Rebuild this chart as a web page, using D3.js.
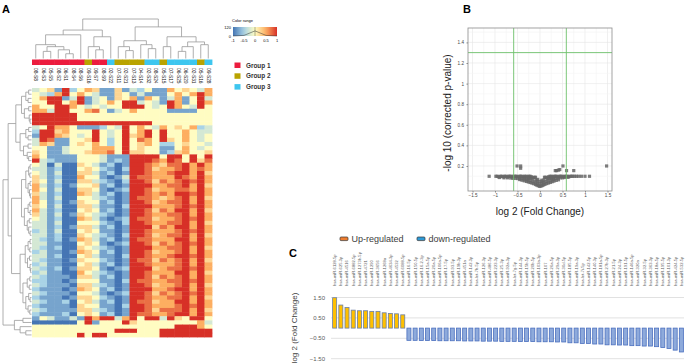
<!DOCTYPE html>
<html lang="en">

<head>
    <meta charset="UTF-8">
    <title>miRNA panels</title>
    <style>
        body { margin: 0; background: #fff; }
        svg { display: block; font-family: "Liberation Sans", Arial, sans-serif; }
    </style>
</head>

<body>
    <div id="wrapper"></div>
    <script src="https://cdn.jsdelivr.net/npm/d3@7"></script>
    <script>
        // ---------- panel A data ----------
        const sampleLabels = ['08-S8', '06-S3', '05-S5', '08-S2', '06-S1', '08-S4', '08-S6', '09-S16', '09-S7', '08-S9',
            '02-S22', '07-S11', '02-S21', '07-S13', '04-S14', '02-S32', '08-S24', '05-S15', '07-S17', '06-S25',
            '06-S20', '02-S31', '05-S16', '09-S28'];
        const sampleGroups = [1, 1, 1, 1, 1, 1, 1, 2, 1, 1, 3, 2, 2, 2, 2, 3, 3, 2, 3, 3, 3, 3, 2, 3];
        const groupNames = ['Group 1', 'Group 2', 'Group 3'];

        // one string per miRNA row, one digit per sample: 0 = -1 (blue) .. 4 = 0 .. 8 = +1 (red)
        const heatRows = [
            '345182465115132411645436', '432684643115413111464686', '468813813415461641361483',
            '448846813464883431861486', '644886434344888434864384', '663884467413464444111144',
            '888888444444444444444444', '888888444444444444444444', '888888888888888844444444',
            '348664111243846436454623', '288564448434846848446433', '188654348434856848446434',
            '387114458424847648546434', '365114546424845642245443', '441134446664845441146434',
            '541134456674855441256445', '641111444311188884884848', '832111444312188876874857',
            '430300543120188765778686', '331200454210288756678676', '431300553120188766788685',
            '531200644101387766687686', '541300553210288757678786', '631201445120188866778685',
            '641300554101288756677686', '531200653120188767688786', '631300443210187765678685',
            '641201544120188756778686', '541300553110288866678786', '631200454120188757688685',
            '531301543210188766778686', '431200653101287756678786', '331300444210288766778685',
            '331201553120188857688686', '231300454110188766678786', '331200543210288756778685',
            '321201653120187766688686', '331100454101288757678786', '321200543210188866778685',
            '231101654120188756678686', '331200453110288766788786', '321101544210187757678685',
            '231100453120188766678686', '321201554101288856778786', '231100643210188766688685',
            '321110553120188757678686', '221101444110287766778786', '321110553210188756678685',
            '211101654120188866788686', '321110443101288757678786', '211101554210188766778685',
            '321120453120187756688686', '211110544110288766678786', '321111553210188757778685',
            '211120454120187766788686', '143113186883684883854884', '000000481444854444444463',
            '444444444444444444488864', '444444444448884448888888', '444444848844444448888888'
        ];

        // [height, left, right], leaves are indices
        const colTree = [1.0,
            [0.72,
                [0.6, [0.35, 0, [0.3, [0.18, 1, 2], [0.22, 3, [0.12, 4, 5]]]], 6],
                [0.55, [0.3, 7, [0.22, 8, 9]], 10]],
            [0.8,
                [0.45, [0.3, 11, [0.2, 12, 13]], [0.35, 14, [0.25, 15, 16]]],
                [0.55, [0.3, 17, 18], [0.42, [0.3, [0.18, 19, 20], 21], [0.35, 22, 23]]]]
        ];
        const rowTree = [1.0,
            [0.82,
                [0.55,
                    [0.35, [0.2, [0.1, 0, 1], [0.12, 2, 3]], [0.25, [0.1, 4, 5], [0.08, 6, [0.05, 7, 8]]]],
                    [0.4, [0.2, [0.1, 9, 10], [0.12, 11, 12]], [0.28, [0.12, 13, 14], [0.15, 15, [0.1, 16, 17]]]]],
                [0.7,
                    [0.35, [0.2, [0.1, [0.05, 18, 19], [0.06, 20, 21]], [0.12, [0.05, 22, 23], [0.07, 24, [0.04, 25, 26]]]],
                        [0.25, [0.12, [0.06, 27, 28], [0.05, 29, 30]], [0.15, [0.08, 31, 32], [0.1, 33, [0.05, 34, 35]]]]],
                    [0.4, [0.22, [0.12, [0.05, 36, 37], [0.06, 38, 39]], [0.14, [0.07, 40, 41], [0.05, 42, [0.03, 43, 44]]]],
                        [0.3, [0.15, [0.06, 45, 46], [0.08, 47, 48]], [0.2, [0.1, 49, [0.05, 50, 51]], [0.12, 52, [0.06, 53, 54]]]]]]],
            [0.6, [0.3, 55, 56], [0.4, 57, [0.2, 58, 59]]]
        ];

        const colorTicks = [-1, -0.5, 0, 0.5, 1];
        const colorCounts = [0, 8, 68, 8, 0];

        // ---------- panel B data: [log2 FC, -log10 corrected p] ----------
        const volcanoBand = [
            [-1.13, 0.10], [-0.98, 0.10], [-0.95, 0.10], [-0.92, 0.095], [-0.88, 0.10], [-0.85, 0.10], [-0.82, 0.095],
            [-0.79, 0.10], [-0.76, 0.10], [-0.73, 0.095], [-0.70, 0.10], [-0.67, 0.10], [-0.64, 0.10], [-0.61, 0.095],
            [-0.58, 0.10], [-0.55, 0.10], [-0.52, 0.10], [-0.49, 0.095], [-0.46, 0.10], [-0.43, 0.10], [-0.40, 0.10],
            [-0.37, 0.095], [-0.34, 0.10], [-0.31, 0.10], [-0.28, 0.095], [-0.25, 0.10], [-0.22, 0.10], [-0.19, 0.095],
            [0.19, 0.095], [0.22, 0.10], [0.25, 0.10], [0.28, 0.095], [0.31, 0.10], [0.34, 0.10], [0.37, 0.10],
            [0.40, 0.095], [0.43, 0.10], [0.46, 0.10], [0.49, 0.10], [0.52, 0.095], [0.55, 0.10], [0.58, 0.10],
            [0.61, 0.10], [0.64, 0.095], [0.67, 0.10], [0.70, 0.10], [0.73, 0.10], [0.77, 0.10], [0.81, 0.10],
            [0.86, 0.10], [0.92, 0.10], [1.00, 0.10], [1.10, 0.10]
        ];
        const volcanoUnder = [
            [-0.90, 0.088], [-0.80, 0.085], [-0.72, 0.085], [-0.65, 0.083], [-0.60, 0.08], [-0.55, 0.08], [-0.50, 0.078],
            [-0.45, 0.076], [-0.40, 0.08], [-0.35, 0.082], [-0.30, 0.078], [-0.25, 0.08], [-0.20, 0.085], [-0.15, 0.088],
            [-0.10, 0.09], [0.10, 0.09], [0.15, 0.088], [0.20, 0.085], [0.25, 0.08], [0.30, 0.078], [0.35, 0.08],
            [0.40, 0.082], [0.45, 0.085], [0.50, 0.085], [0.55, 0.088], [0.62, 0.09]
        ];
        const volcanoV = [
            [-0.45, 0.068], [-0.40, 0.062], [-0.35, 0.056], [-0.30, 0.05], [-0.26, 0.045], [-0.22, 0.04], [-0.18, 0.034],
            [-0.14, 0.028], [-0.10, 0.02], [-0.07, 0.014], [-0.04, 0.008], [-0.01, 0.003], [0.02, 0.004], [0.05, 0.01],
            [0.08, 0.016], [0.11, 0.022], [0.15, 0.029], [0.19, 0.035], [0.23, 0.041], [0.27, 0.047], [0.31, 0.053],
            [0.36, 0.06], [0.41, 0.066],
            [-0.35, 0.072], [-0.28, 0.066], [-0.22, 0.06], [-0.16, 0.052], [-0.11, 0.045], [-0.06, 0.035], [-0.02, 0.025],
            [0.03, 0.028], [0.08, 0.04], [0.13, 0.05], [0.18, 0.058], [0.24, 0.064], [0.30, 0.07], [-0.24, 0.085],
            [-0.17, 0.075], [-0.09, 0.065], [0.00, 0.05], [0.09, 0.065], [0.17, 0.075], [0.25, 0.085], [-0.12, 0.09],
            [-0.05, 0.07], [0.04, 0.062], [0.12, 0.09], [-0.06, 0.052], [0.05, 0.045]
        ];
        const volcanoHigh = [
            [-0.51, 0.20], [-0.43, 0.20], [-0.43, 0.178], [0.51, 0.20], [0.34, 0.155], [0.37, 0.155],
            [0.41, 0.16], [0.44, 0.165], [0.59, 0.155], [0.75, 0.155], [1.48, 0.20]
        ];
        const fcCut = 0.585, pCut = 1.301;

        // ---------- panel C data ----------
        const upMirs = ['hsa-miR-6128-5p', 'hsa-miR-625-3p', 'hsa-miR-4516', 'hsa-miR-6882-5p', 'hsa-miR-1273h-5p',
            'hsa-miR-4721', 'hsa-miR-1290', 'hsa-miR-3656', 'hsa-miR-1268a', 'hsa-miR-4634-3p', 'hsa-miR-4532',
            'hsa-miR-6088-5p'];
        const upValues = [1.49, 1.13, 1.01, 0.88, 0.85, 0.85, 0.82, 0.82, 0.75, 0.72, 0.70, 0.65];
        const downMirs = ['hsa-miR-16-5p', 'hsa-miR-150-5p', 'hsa-miR-16-2-3p', 'hsa-miR-15a-5p', 'hsa-miR-20a-5p',
            'hsa-miR-106a-5p', 'hsa-miR-17-5p', 'hsa-miR-93-5p', 'hsa-miR-19b-3p', 'hsa-miR-451a', 'hsa-miR-142-3p',
            'hsa-let-7b-5p', 'hsa-miR-126-3p', 'hsa-miR-486-5p', 'hsa-miR-223-3p', 'hsa-miR-25-3p', 'hsa-miR-92a-3p',
            'hsa-let-7g-5p', 'hsa-miR-144-3p', 'hsa-miR-15b-5p', 'hsa-miR-20b-5p', 'hsa-miR-103a-3p', 'hsa-miR-107',
            'hsa-miR-26a-5p', 'hsa-miR-29a-3p', 'hsa-miR-30d-5p', 'hsa-miR-185-5p', 'hsa-miR-19a-3p', 'hsa-let-7i-5p',
            'hsa-miR-142-5p', 'hsa-miR-140-3p', 'hsa-miR-181a-5p', 'hsa-miR-27b-3p', 'hsa-miR-21-5p', 'hsa-miR-24-3p',
            'hsa-miR-191-5p', 'hsa-miR-146a-5p', 'hsa-miR-320a', 'hsa-miR-32-5p', 'hsa-miR-363-3p', 'hsa-miR-18a-5p',
            'hsa-miR-195-5p', 'hsa-miR-101-3p', 'hsa-miR-424-5p', 'hsa-miR-532-5p'];
        const downValues = [-0.60, -0.60, -0.61, -0.61, -0.61, -0.62, -0.62, -0.62, -0.62, -0.63, -0.63, -0.63,
            -0.64, -0.64, -0.64, -0.65, -0.65, -0.65, -0.66, -0.66, -0.66, -0.67, -0.67, -0.67,
            -0.68, -0.68, -0.72, -0.72, -0.75, -0.75, -0.78, -0.78, -0.82, -0.82, -0.83, -0.83,
            -0.86, -0.86, -0.88, -0.88, -0.91, -0.95, -1.00, -1.08, -1.17];
        const fcTicks = [1.5, 0.5, -0.5, -1.5];

        const width = 685, height = 364;
        const svg = d3.select('#wrapper').append('svg')
            .attr('width', width)
            .attr('height', height);

        // turn [h, a, b] arrays into a d3 hierarchy and draw elbow links
        function toNode(t) {
            return Array.isArray(t) ? { h: t[0], children: t.slice(1).map(toNode) } : { h: 0, leaf: t };
        }

        function drawDendro(g, tree, leafPos, hPos, isColumn) {
            const root = d3.hierarchy(toNode(tree));
            root.eachAfter(n => {
                n.p = n.children ? d3.mean(n.children, c => c.p) : leafPos(n.data.leaf);
                n.q = hPos(n.data.h);
            });
            g.selectAll('path')
                .data(root.descendants().filter(n => n.children))
                .join('path')
                .attr('d', n => {
                    const [a, b] = n.children;
                    return isColumn
                        ? `M${a.p},${a.q}V${n.q}H${b.p}V${b.q}`
                        : `M${a.q},${a.p}H${n.q}V${b.p}H${b.q}`;
                })
                .attr('fill', 'none')
                .attr('stroke', '#9a9a9a')
                .attr('stroke-width', 0.8);
        }

        function drawHeatmap() {
            const g = svg.append('g');
            g.append('text').attr('x', 2).attr('y', 13)
                .attr('font-size', 11).attr('font-weight', 'bold').text('A');

            const heat = heatRows.map(r => r.split('').map(c => (+c - 4) / 4));
            const x = d3.scaleBand().domain(d3.range(sampleLabels.length)).range([32, 212]);
            const y = d3.scaleBand().domain(d3.range(heat.length)).range([88, 337]);
            const color = d3.scaleLinear()
                .domain([-1, -0.5, 0, 0.5, 1])
                .range(['#4575b4', '#a9d3e6', '#fffcc2', '#fdae61', '#d73027']);
            const groupColor = d3.scaleOrdinal().domain([1, 2, 3]).range(['#ec1c3e', '#b9a300', '#3ec6ef']);

            const cells = heat.flatMap((row, i) => row.map((v, j) => ({ i, j, v })));
            g.append('g').selectAll('rect')
                .data(cells)
                .join('rect')
                .attr('x', d => x(d.j))
                .attr('y', d => y(d.i))
                .attr('width', x.bandwidth() + 0.4)
                .attr('height', y.bandwidth() + 0.4)
                .attr('fill', d => color(d.v));

            // group strip
            g.append('g').selectAll('rect')
                .data(sampleGroups)
                .join('rect')
                .attr('x', (d, i) => x(i))
                .attr('y', 59.5)
                .attr('width', x.bandwidth() + 0.4)
                .attr('height', 5.5)
                .attr('fill', d => groupColor(d));

            // sample names
            g.append('g').selectAll('text')
                .data(sampleLabels)
                .join('text')
                .attr('transform', (d, i) => `translate(${x(i) + x.bandwidth() / 2 - 1.7},68) rotate(90)`)
                .attr('font-size', 4.8)
                .attr('fill', '#222')
                .text(d => d);

            drawDendro(g.append('g'), colTree, i => x(i) + x.bandwidth() / 2,
                d3.scaleLinear().domain([0, 1]).range([58.5, 19]), true);
            drawDendro(g.append('g'), rowTree, i => y(i) + y.bandwidth() / 2,
                d3.scaleLinear().domain([0, 1]).range([31.5, 3]), false);

            // colour key
            const key = g.append('g');
            const kx = d3.scaleLinear().domain([-1, 1]).range([233, 277]);
            const ky = d3.scaleLinear().domain([0, 120]).range([36, 27]);
            const grad = svg.append('defs').append('linearGradient').attr('id', 'keyGrad');
            grad.selectAll('stop')
                .data(d3.range(0, 1.01, 0.1))
                .join('stop')
                .attr('offset', d => d)
                .attr('stop-color', d => color(d * 2 - 1));
            key.append('rect').attr('x', kx(-1)).attr('y', ky(120))
                .attr('width', kx(1) - kx(-1)).attr('height', ky(0) - ky(120))
                .attr('fill', 'url(#keyGrad)');
            key.append('path')
                .attr('d', d3.line().x((d, i) => kx(colorTicks[i])).y(d => ky(d))(colorCounts))
                .attr('fill', 'none').attr('stroke', '#333').attr('stroke-width', 0.5);
            key.append('line').attr('x1', kx(0)).attr('x2', kx(0)).attr('y1', ky(120)).attr('y2', ky(0))
                .attr('stroke', '#333').attr('stroke-width', 0.4);
            key.append('text').attr('x', 232).attr('y', 22).attr('font-size', 4).text('Color range');
            key.selectAll('.cnt').data([120, 0]).join('text')
                .attr('x', 231).attr('y', d => ky(d) + 1.5)
                .attr('text-anchor', 'end').attr('font-size', 4).text(d => d);
            key.selectAll('.tk').data(colorTicks).join('text')
                .attr('x', d => kx(d)).attr('y', 41.5)
                .attr('text-anchor', 'middle').attr('font-size', 4).text(d => d);

            // group legend
            const leg = g.append('g').selectAll('g')
                .data(groupNames)
                .join('g')
                .attr('transform', (d, i) => `translate(234.5,${62.5 + i * 10.8})`);
            leg.append('rect').attr('width', 6).attr('height', 5.5).attr('fill', (d, i) => groupColor(i + 1));
            leg.append('text').attr('x', 11.5).attr('y', 5)
                .attr('font-size', 6.4).attr('font-weight', 'bold').attr('fill', '#333').text(d => d);
        }

        function drawVolcano() {
            const g = svg.append('g');
            const x = d3.scaleLinear().domain([-1.6, 1.6]).range([468, 612]);
            const y = d3.scaleLinear().domain([-0.043, 1.54]).range([191, 28]);

            g.append('text').attr('x', 463).attr('y', 13)
                .attr('font-size', 11).attr('font-weight', 'bold').text('B');

            // grid
            g.append('g').selectAll('line')
                .data(d3.range(-1.5, 1.51, 0.25))
                .join('line')
                .attr('x1', d => x(d)).attr('x2', d => x(d)).attr('y1', 28).attr('y2', 191)
                .attr('stroke', (d, i) => i % 2 ? '#f4f4f4' : '#e6e6e6').attr('stroke-width', 0.6);
            g.append('g').selectAll('line')
                .data(d3.range(0.1, 1.51, 0.1))
                .join('line')
                .attr('x1', 468).attr('x2', 612).attr('y1', d => y(d)).attr('y2', d => y(d))
                .attr('stroke', (d, i) => i % 2 ? '#e6e6e6' : '#f4f4f4').attr('stroke-width', 0.6);

            const pts = volcanoBand.concat(volcanoUnder, volcanoV, volcanoHigh);
            g.append('g').selectAll('rect')
                .data(pts)
                .join('rect')
                .attr('x', d => x(d[0]) - 1.6)
                .attr('y', d => y(d[1]) - 1.6)
                .attr('width', 3.2).attr('height', 3.2)
                .attr('fill', '#666').attr('fill-opacity', 0.85);

            // thresholds
            g.selectAll('.vcut').data([-fcCut, fcCut]).join('line')
                .attr('x1', d => x(d)).attr('x2', d => x(d)).attr('y1', 28).attr('y2', 191)
                .attr('stroke', '#6cc06a').attr('stroke-width', 0.9);
            g.append('line').attr('x1', 468).attr('x2', 612).attr('y1', y(pCut)).attr('y2', y(pCut))
                .attr('stroke', '#6cc06a').attr('stroke-width', 0.9);

            g.append('rect').attr('x', 468).attr('y', 28).attr('width', 144).attr('height', 163)
                .attr('fill', 'none').attr('stroke', '#8c8c8c').attr('stroke-width', 0.8);

            const fmt = d3.format('~g');
            g.append('g')
                .attr('transform', 'translate(0,191)')
                .call(d3.axisBottom(x).tickValues([-1.5, -1, -0.5, 0, 0.5, 1, 1.5]).tickSize(1.5).tickPadding(1.5).tickFormat(fmt))
                .call(a => a.select('.domain').remove())
                .call(a => a.selectAll('line').attr('stroke', '#888'))
                .call(a => a.selectAll('text').attr('font-size', 4.6).attr('fill', '#444'));
            g.append('g')
                .attr('transform', 'translate(468,0)')
                .call(d3.axisLeft(y).tickValues([0.2, 0.4, 0.6, 0.8, 1, 1.2, 1.4]).tickSize(1.5).tickPadding(2.5).tickFormat(fmt))
                .call(a => a.select('.domain').remove())
                .call(a => a.selectAll('line').attr('stroke', '#888'))
                .call(a => a.selectAll('text').attr('font-size', 4.6).attr('fill', '#444'));

            g.append('text').attr('x', 540).attr('y', 215)
                .attr('text-anchor', 'middle').attr('font-size', 10).attr('fill', '#222')
                .text('log 2 (Fold Change)');
            g.append('text')
                .attr('transform', 'translate(451,113) rotate(-90)')
                .attr('text-anchor', 'middle').attr('font-size', 10).attr('fill', '#222')
                .text('-log 10 (corrected p-value)');
        }

        function drawBars() {
            const g = svg.append('g');
            const mirs = upMirs.concat(downMirs);
            const vals = upValues.concat(downValues);
            const x = d3.scaleBand().domain(mirs).range([332, 684]).paddingInner(0.35).paddingOuter(0.1);
            const y = d3.scaleLinear().domain([-1.5, 1.5]).range([358.7, 297.5]);

            g.append('text').attr('x', 289).attr('y', 257)
                .attr('font-size', 11).attr('font-weight', 'bold').text('C');

            g.append('g').selectAll('line')
                .data(fcTicks)
                .join('line')
                .attr('x1', 331).attr('x2', 684).attr('y1', d => y(d)).attr('y2', d => y(d))
                .attr('stroke', '#d9d9d9').attr('stroke-width', 0.8);
            g.append('g').selectAll('text')
                .data(fcTicks)
                .join('text')
                .attr('x', 325).attr('y', d => y(d) + 2)
                .attr('text-anchor', 'end').attr('font-size', 6).attr('fill', '#595959')
                .text(d3.format('.2f'));

            g.append('g').selectAll('rect')
                .data(mirs)
                .join('rect')
                .attr('x', d => x(d))
                .attr('width', x.bandwidth())
                .attr('y', (d, i) => y(Math.max(0, vals[i])))
                .attr('height', (d, i) => Math.abs(y(vals[i]) - y(0)))
                .attr('fill', (d, i) => vals[i] > 0 ? '#ffc000' : '#8eaadb')
                .attr('stroke', (d, i) => vals[i] > 0 ? '#6a7fa8' : '#4a6fbf')
                .attr('stroke-width', 0.8);

            g.append('g').selectAll('text')
                .data(mirs)
                .join('text')
                .attr('transform', d => `translate(${x(d) + x.bandwidth() / 2 + 1.4},286) rotate(-90)`)
                .attr('font-size', 4.1).attr('fill', '#595959')
                .text(d => d);

            g.append('text')
                .attr('transform', 'translate(297,328) rotate(-90)')
                .attr('text-anchor', 'middle').attr('font-size', 8).attr('fill', '#404040')
                .text('log 2 (Fold Change)');

            // legend
            const leg = g.append('g').selectAll('g')
                .data([['Up-regulated', '#ed7d31', 340], ['down-regulated', '#2f9ad6', 417]])
                .join('g')
                .attr('transform', d => `translate(${d[2]},237)`);
            leg.append('rect').attr('width', 8).attr('height', 3.6).attr('rx', 1)
                .attr('fill', d => d[1]).attr('stroke', '#333').attr('stroke-width', 0.7);
            leg.append('text').attr('x', 11.5).attr('y', 4.8)
                .attr('font-size', 9).attr('fill', '#404040').text(d => d[0]);
        }

        drawHeatmap();
        drawVolcano();
        drawBars();
    </script>
</body>

</html>
